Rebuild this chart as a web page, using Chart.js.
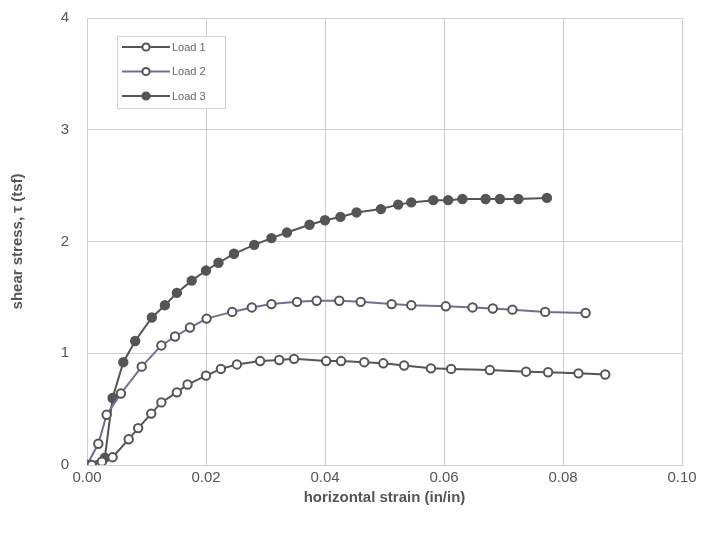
<!DOCTYPE html>
<html>
<head>
<meta charset="utf-8">
<script src="https://cdn.jsdelivr.net/npm/chart.js@4/dist/chart.umd.min.js"></script>
<style>
  body { margin: 0; background: #fff; }
  #wrap { width: 703px; height: 538px; }
</style>
</head>
<body>
<div id="wrap"><canvas id="shear_chart" width="703" height="538"></canvas></div>
<script>
// direct shear test - stress vs strain for three normal loads
var load1X = [0.0008, 0.0025, 0.0043, 0.0070, 0.0086, 0.0108, 0.0125, 0.0151, 0.0169, 0.0200, 0.0225, 0.0252, 0.0291, 0.0323, 0.0348, 0.0402, 0.0427, 0.0466, 0.0498, 0.0533, 0.0578, 0.0612, 0.0677, 0.0738, 0.0775, 0.0826, 0.0871];
var load1Y = [0, 0.03, 0.07, 0.23, 0.33, 0.46, 0.56, 0.65, 0.72, 0.80, 0.86, 0.90, 0.93, 0.94, 0.95, 0.93, 0.93, 0.92, 0.91, 0.89, 0.865, 0.86, 0.85, 0.835, 0.83, 0.82, 0.81];

var load2X = [0, 0.0019, 0.0033, 0.0057, 0.0092, 0.0125, 0.0148, 0.0173, 0.0201, 0.0244, 0.0277, 0.0310, 0.0353, 0.0386, 0.0424, 0.0460, 0.0512, 0.0545, 0.0603, 0.0648, 0.0682, 0.0715, 0.0770, 0.0838];
var load2Y = [0, 0.19, 0.45, 0.64, 0.88, 1.07, 1.15, 1.23, 1.31, 1.37, 1.41, 1.44, 1.46, 1.47, 1.47, 1.46, 1.44, 1.43, 1.42, 1.41, 1.40, 1.39, 1.37, 1.36];

var load3X = [0, 0.0030, 0.0043, 0.0061, 0.0081, 0.0109, 0.0131, 0.0151, 0.0176, 0.0200, 0.0221, 0.0247, 0.0281, 0.0310, 0.0336, 0.0374, 0.0400, 0.0426, 0.0453, 0.0494, 0.0523, 0.0545, 0.0582, 0.0607, 0.0631, 0.0670, 0.0694, 0.0725, 0.0773];
var load3Y = [0, 0.065, 0.60, 0.92, 1.11, 1.32, 1.43, 1.54, 1.65, 1.74, 1.81, 1.89, 1.97, 2.03, 2.08, 2.15, 2.19, 2.22, 2.26, 2.29, 2.33, 2.35, 2.37, 2.37, 2.38, 2.38, 2.38, 2.38, 2.39];

var seriesNames = ["Load 1", "Load 2", "Load 3"];
var xTicks = [0, 0.02, 0.04, 0.06, 0.08, 0.10];
var yTicks = [0, 1, 2, 3, 4];

function toPoints(xs, ys) {
  var pts = [];
  for (var i = 0; i < xs.length; i++) pts.push({ x: xs[i], y: ys[i] });
  return pts;
}

var gray = '#555555';
var purple = '#6e6e9a';

function makeSet(label, xs, ys, lineColor, filled) {
  return {
    label: label,
    data: toPoints(xs, ys),
    showLine: true,
    borderColor: lineColor,
    borderWidth: 2,
    pointRadius: 4.2,
    pointBorderWidth: 2,
    pointBorderColor: gray,
    pointBackgroundColor: filled ? gray : '#ffffff',
    tension: 0
  };
}

// legend box drawn inside the plot area, top left
var boxLegend = {
  id: 'boxLegend',
  afterDraw: function (chart) {
    var ctx = chart.ctx;
    var left = 117, top = 36, w = 108, h = 72;
    ctx.save();
    ctx.fillStyle = '#ffffff';
    ctx.fillRect(left, top, w, h);
    ctx.strokeStyle = '#d4d4d4';
    ctx.lineWidth = 1;
    ctx.strokeRect(left + 0.5, top + 0.5, w, h);
    chart.data.datasets.forEach(function (ds, i) {
      var y = top + 11 + i * 24.5;
      ctx.strokeStyle = ds.borderColor;
      ctx.lineWidth = 2;
      ctx.beginPath();
      ctx.moveTo(122, y);
      ctx.lineTo(170, y);
      ctx.stroke();
      ctx.beginPath();
      ctx.arc(146, y, 3.6, 0, Math.PI * 2);
      ctx.fillStyle = ds.pointBackgroundColor;
      ctx.fill();
      ctx.strokeStyle = ds.pointBorderColor;
      ctx.stroke();
      ctx.fillStyle = '#666';
      ctx.font = '11px Arial, "Liberation Sans", sans-serif';
      ctx.textBaseline = 'middle';
      ctx.fillText(ds.label, 172, y + 0.5);
    });
    ctx.restore();
  }
};

new Chart(document.getElementById('shear_chart').getContext('2d'), {
  type: 'scatter',
  data: {
    datasets: [
      makeSet(seriesNames[0], load1X, load1Y, gray, false),
      makeSet(seriesNames[1], load2X, load2Y, purple, false),
      makeSet(seriesNames[2], load3X, load3Y, gray, true)
    ]
  },
  options: {
    responsive: false,
    animation: false,
    layout: { padding: { top: 18, right: 21, left: 9, bottom: 31 } },
    plugins: {
      legend: { display: false },
      tooltip: { enabled: false }
    },
    scales: {
      x: {
        type: 'linear',
        min: 0,
        max: 0.1,
        afterBuildTicks: function (axis) {
          axis.ticks = xTicks.map(function (v) { return { value: v }; });
        },
        afterFit: function (axis) { axis.height = 42; },
        ticks: {
          color: '#555',
          font: { family: 'Arial, "Liberation Sans", sans-serif', size: 15 },
          padding: 4,
          maxRotation: 0,
          callback: function (v) { return v.toFixed(2); }
        },
        grid: { color: '#cfcfcf', lineWidth: 1, drawTicks: false },
        border: { color: '#cfcfcf' },
        title: {
          display: true,
          text: 'horizontal strain (in/in)',
          color: '#555',
          font: { family: 'Arial, "Liberation Sans", sans-serif', size: 15, weight: 'bold' },
          padding: { top: 2, bottom: 0 }
        }
      },
      y: {
        type: 'linear',
        min: 0,
        max: 4,
        afterBuildTicks: function (axis) {
          axis.ticks = yTicks.map(function (v) { return { value: v }; });
        },
        afterFit: function (axis) {
          axis.width = 78;
          axis.paddingTop = 9;
          axis.paddingBottom = 9;
        },
        ticks: {
          color: '#555',
          font: { family: 'Arial, "Liberation Sans", sans-serif', size: 15 },
          padding: 18
        },
        grid: { color: '#cfcfcf', lineWidth: 1, drawTicks: false },
        border: { color: '#cfcfcf' },
        title: {
          display: true,
          text: 'shear stress, \u03c4 (tsf)',
          color: '#555',
          font: { family: 'Arial, "Liberation Sans", sans-serif', size: 15, weight: 'bold' },
          padding: { top: 0, bottom: 0 }
        }
      }
    }
  },
  plugins: [boxLegend]
});
</script>
</body>
</html>
